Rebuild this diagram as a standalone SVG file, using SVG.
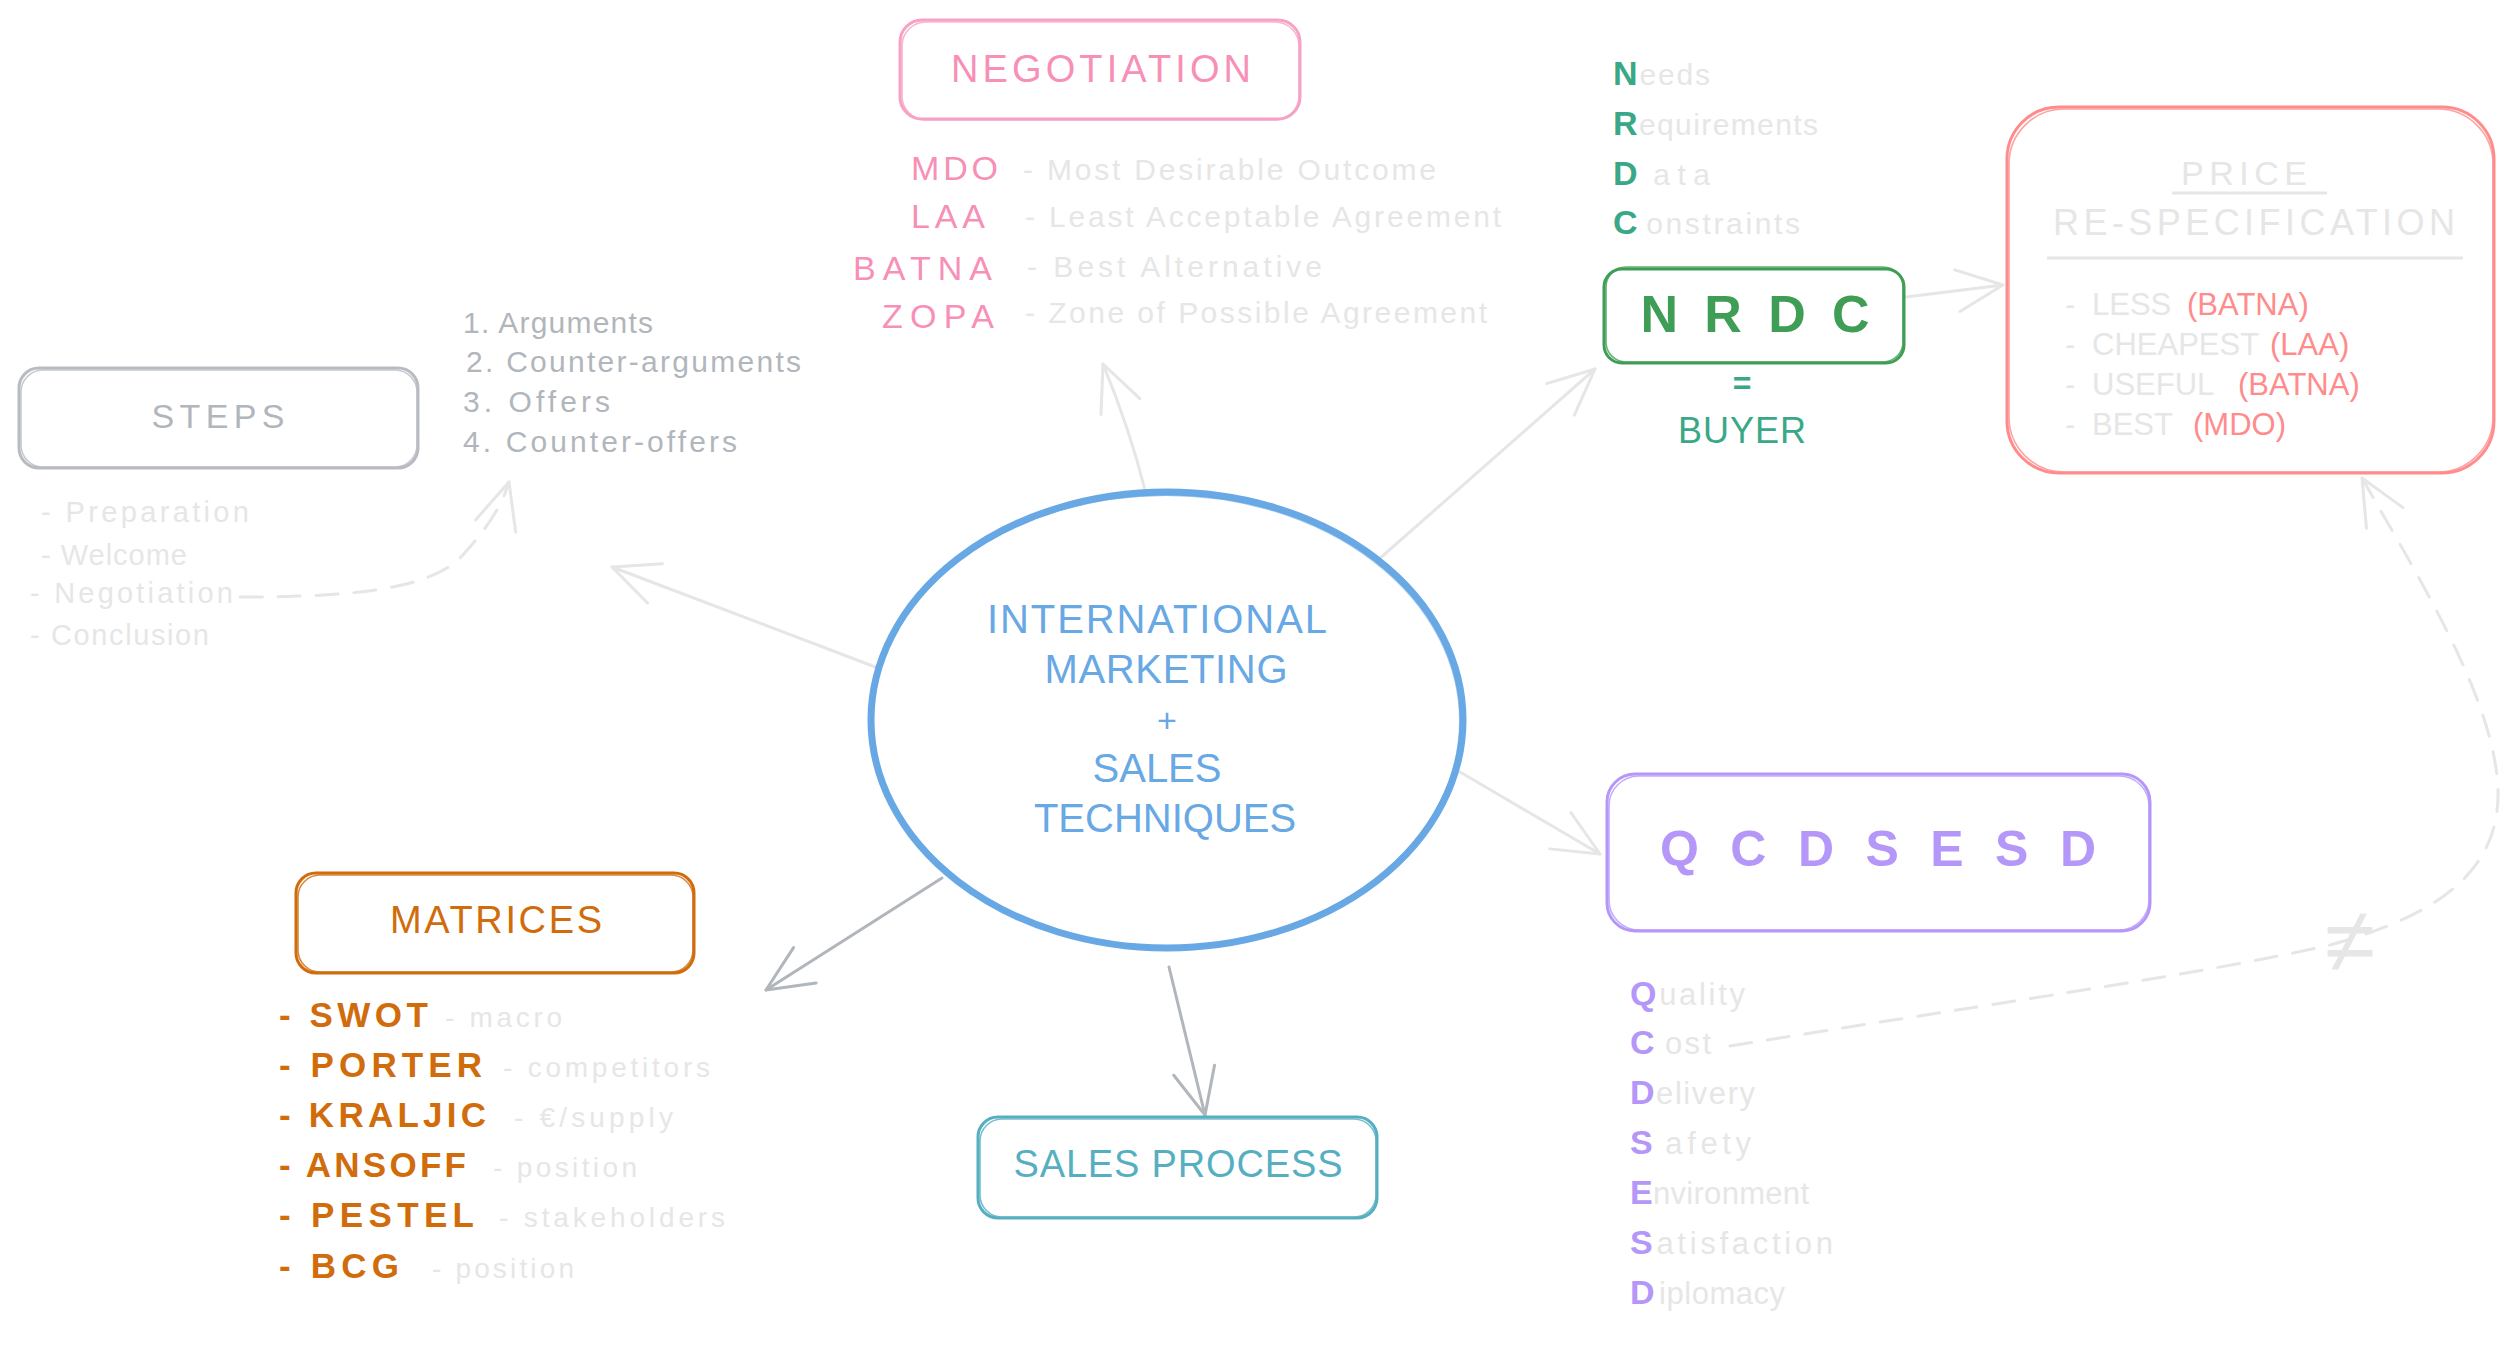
<svg xmlns="http://www.w3.org/2000/svg" width="2512" height="1361" viewBox="0 0 2512 1361">
<defs>
<style>
text{font-family:"Liberation Sans",Arial,sans-serif}
.box{fill:#fff;stroke-width:3;stroke-linejoin:round}
.box2{fill:none;stroke-width:1.6;opacity:.8}
.lt{fill:#e6e6e6}
.conn{fill:none;stroke:#e6e6e6;stroke-width:3;stroke-linecap:round}
.conn.dk{stroke:#b1b6bc}
.dash{stroke-dasharray:22 16}
.mk{fill:none;stroke-width:3;stroke-linecap:round;stroke-linejoin:round;stroke-dasharray:none}
</style>
<marker id="ahL" viewBox="0 0 52 52" refX="49" refY="26" markerWidth="52" markerHeight="52" markerUnits="userSpaceOnUse" orient="auto">
<path class="mk" stroke="#e6e6e6" d="M3,5 L49,26 L3,47"/>
</marker>
<marker id="ahD" viewBox="0 0 52 52" refX="49" refY="26" markerWidth="52" markerHeight="52" markerUnits="userSpaceOnUse" orient="auto">
<path class="mk" stroke="#b1b6bc" d="M3,5 L49,26 L3,47"/>
</marker>
</defs>
<rect width="2512" height="1361" fill="#fff"/>

<g id="connectors">
<path class="conn" d="M1145,490 Q1130,430 1103,364" marker-end="url(#ahL)"/>
<path class="conn" d="M1378,560 L1595,369" marker-end="url(#ahL)"/>
<path class="conn" d="M878,668 L612,567" marker-end="url(#ahL)"/>
<path class="conn" d="M1460,772 L1600,854" marker-end="url(#ahL)"/>
<path class="conn dk" d="M942,878 L766,990" marker-end="url(#ahD)"/>
<path class="conn dk" d="M1169,967 L1205,1115" marker-end="url(#ahD)"/>
<path class="conn" d="M1906,297 L2003,285" marker-end="url(#ahL)"/>
<path class="conn dash" d="M240,597 C350,597 430,590 462,556 C490,525 502,505 509,482" marker-end="url(#ahL)"/>
<path class="conn dash" d="M1730,1046 C1950,1010 2200,975 2330,945 C2440,915 2500,870 2498,790 C2495,700 2420,580 2362,478" marker-end="url(#ahL)"/>
</g>

<g id="center">
<ellipse cx="1167" cy="720" rx="296" ry="228" fill="#fff" stroke="#68a8e4" stroke-width="7"/>
<ellipse cx="1166" cy="721" rx="294" ry="226" fill="none" stroke="#68a8e4" stroke-width="2" opacity=".6"/>
<g fill="#68a8e4" font-size="40" text-anchor="middle">
<text x="1157" y="633" textLength="340">INTERNATIONAL</text>
<text x="1166" y="683" textLength="243">MARKETING</text>
<text x="1167" y="732" font-size="34">+</text>
<text x="1157" y="782">SALES</text>
<text x="1165" y="832">TECHNIQUES</text>
</g>
</g>

<g id="negotiation">
<rect class="box" x="900" y="20" width="400" height="99" rx="22" stroke="#f7a1c4"/>
<rect class="box2" x="902" y="22" width="397" height="98" rx="24" stroke="#f7a1c4"/>
<text x="1101" y="82" font-size="38" fill="#f78fb7" text-anchor="middle" textLength="300">NEGOTIATION</text>
<g fill="#f78fb7" font-size="34">
<text x="911" y="180" textLength="87">MDO</text>
<text x="911" y="228" textLength="74">LAA</text>
<text x="853" y="280" textLength="139">BATNA</text>
<text x="882" y="328" textLength="112">ZOPA</text>
</g>
<g class="lt" font-size="30">
<text x="1023" y="180" textLength="413">- Most Desirable Outcome</text>
<text x="1025" y="227" textLength="476">- Least Acceptable Agreement</text>
<text x="1027" y="277" textLength="295">- Best Alternative</text>
<text x="1025" y="323" textLength="462">- Zone of Possible Agreement</text>
</g>
</g>

<g id="nrdc">
<g font-size="30">
<text x="1613" y="85" textLength="97"><tspan fill="#3aa887" font-size="34" font-weight="bold">N</tspan><tspan class="lt">eeds</tspan></text>
<text x="1613" y="135" textLength="205"><tspan fill="#3aa887" font-size="34" font-weight="bold">R</tspan><tspan class="lt">equirements</tspan></text>
<text x="1613" y="185" textLength="97"><tspan fill="#3aa887" font-size="34" font-weight="bold">D</tspan><tspan class="lt" dx="8">ata</tspan></text>
<text x="1613" y="234" textLength="187"><tspan fill="#3aa887" font-size="34" font-weight="bold">C</tspan><tspan class="lt" dx="6">onstraints</tspan></text>
</g>
<rect class="box" x="1604" y="269" width="300" height="94" rx="18" stroke="#3f9d55"/>
<rect class="box2" x="1606" y="267" width="297" height="95" rx="20" stroke="#3f9d55"/>
<text x="1755" y="332" font-size="52" font-weight="bold" fill="#3f9d55" text-anchor="middle" textLength="229">N R D C</text>
<text x="1742" y="394" font-size="32" font-weight="bold" fill="#3aa887" text-anchor="middle">=</text>
<text x="1742" y="443" font-size="36" fill="#3aa887" text-anchor="middle" textLength="128">BUYER</text>
</g>

<g id="price">
<rect class="box" x="2007" y="107" width="487" height="366" rx="52" stroke="#ff8c8c"/>
<rect class="box2" x="2009" y="109" width="484" height="363" rx="55" stroke="#ff8c8c"/>
<text x="2244" y="185" font-size="34" class="lt" text-anchor="middle" textLength="126">PRICE</text>
<line x1="2172" y1="193" x2="2327" y2="193" stroke="#e6e6e6" stroke-width="3"/>
<text x="2254" y="235" font-size="36" class="lt" text-anchor="middle" textLength="402">RE-SPECIFICATION</text>
<line x1="2047" y1="258" x2="2463" y2="258" stroke="#e6e6e6" stroke-width="3"/>
<g font-size="31">
<text y="315"><tspan x="2065" class="lt">-</tspan><tspan x="2092" class="lt">LESS</tspan><tspan x="2187" fill="#ff8c8c">(BATNA)</tspan></text>
<text y="355"><tspan x="2065" class="lt">-</tspan><tspan x="2092" class="lt">CHEAPEST</tspan><tspan x="2270" fill="#ff8c8c">(LAA)</tspan></text>
<text y="395"><tspan x="2065" class="lt">-</tspan><tspan x="2092" class="lt">USEFUL</tspan><tspan x="2238" fill="#ff8c8c">(BATNA)</tspan></text>
<text y="435"><tspan x="2065" class="lt">-</tspan><tspan x="2092" class="lt">BEST</tspan><tspan x="2193" fill="#ff8c8c">(MDO)</tspan></text>
</g>
</g>

<g id="steps">
<rect class="box" x="19" y="368" width="399" height="100" rx="20" stroke="#b8bcc2"/>
<rect class="box2" x="21" y="370" width="396" height="97" rx="22" stroke="#b8bcc2"/>
<text x="218" y="428" font-size="34" fill="#b1b6bc" text-anchor="middle" textLength="133">STEPS</text>
<g font-size="30" fill="#b1b6bc">
<text x="463" y="333" textLength="190">1. Arguments</text>
<text x="466" y="372" textLength="335">2. Counter-arguments</text>
<text x="463" y="412" textLength="147">3. Offers</text>
<text x="463" y="452" textLength="274">4. Counter-offers</text>
</g>
<g font-size="29" class="lt">
<text x="41" y="522" textLength="208">- Preparation</text>
<text x="41" y="565" textLength="146">- Welcome</text>
<text x="30" y="603" textLength="203">- Negotiation</text>
<text x="30" y="645" textLength="179">- Conclusion</text>
</g>
</g>

<g id="matrices">
<rect class="box" x="296" y="873" width="398" height="100" rx="20" stroke="#d06c0c"/>
<rect class="box2" x="298" y="875" width="395" height="97" rx="22" stroke="#d06c0c"/>
<text x="496" y="933" font-size="38" fill="#d06c0c" text-anchor="middle" textLength="212">MATRICES</text>
<g font-size="35" font-weight="bold" fill="#d06c0c">
<text x="279" y="1027" textLength="149">- SWOT</text>
<text x="279" y="1077" textLength="203">- PORTER</text>
<text x="279" y="1127" textLength="207">- KRALJIC</text>
<text x="279" y="1177" textLength="187">- ANSOFF</text>
<text x="279" y="1227" textLength="195">- PESTEL</text>
<text x="279" y="1278" textLength="120">- BCG</text>
</g>
<g font-size="28" class="lt">
<text x="445" y="1027" textLength="117">- macro</text>
<text x="503" y="1077" textLength="207">- competitors</text>
<text x="514" y="1127" textLength="159">- €/supply</text>
<text x="493" y="1177" textLength="144">- position</text>
<text x="499" y="1227" textLength="226">- stakeholders</text>
<text x="432" y="1278" textLength="142">- position</text>
</g>
</g>

<g id="sales-process">
<rect class="box" x="978" y="1117" width="399" height="101" rx="20" stroke="#56afc1"/>
<rect class="box2" x="980" y="1119" width="396" height="98" rx="22" stroke="#56afc1"/>
<text x="1178" y="1177" font-size="38" fill="#56afc1" text-anchor="middle" textLength="329">SALES PROCESS</text>
</g>

<g id="qcdsesd">
<rect class="box" x="1607" y="774" width="543" height="157" rx="28" stroke="#b497f8"/>
<rect class="box2" x="1609" y="776" width="540" height="154" rx="30" stroke="#b497f8"/>
<text x="1878" y="866" font-size="50" font-weight="bold" fill="#b497f8" text-anchor="middle" textLength="436">Q C D S E S D</text>
<g font-size="31">
<text x="1630" y="1005" textLength="115"><tspan fill="#b497f8" font-size="34" font-weight="bold">Q</tspan><tspan class="lt">uality</tspan></text>
<text x="1630" y="1054" textLength="81"><tspan fill="#b497f8" font-size="34" font-weight="bold">C</tspan><tspan class="lt" dx="8">ost</tspan></text>
<text x="1630" y="1104" textLength="125"><tspan fill="#b497f8" font-size="34" font-weight="bold">D</tspan><tspan class="lt">elivery</tspan></text>
<text x="1630" y="1154" textLength="121"><tspan fill="#b497f8" font-size="34" font-weight="bold">S</tspan><tspan class="lt" dx="8">afety</tspan></text>
<text x="1630" y="1204" textLength="179"><tspan fill="#b497f8" font-size="34" font-weight="bold">E</tspan><tspan class="lt">nvironment</tspan></text>
<text x="1630" y="1254" textLength="203"><tspan fill="#b497f8" font-size="34" font-weight="bold">S</tspan><tspan class="lt">atisfaction</tspan></text>
<text x="1630" y="1304" textLength="155"><tspan fill="#b497f8" font-size="34" font-weight="bold">D</tspan><tspan class="lt" dx="4">iplomacy</tspan></text>
</g>
<text x="2350" y="972" font-size="92" fill="#e6e6e6" text-anchor="middle">≠</text>
</g>
</svg>
